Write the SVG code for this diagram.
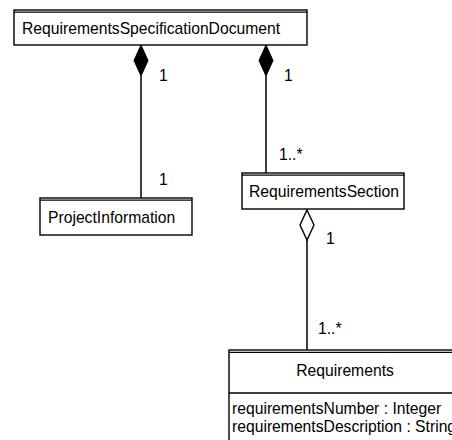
<svg xmlns="http://www.w3.org/2000/svg" width="452" height="440" viewBox="0 0 452 440">
  <style>
    .box { fill: #ffffff; stroke: #000000; stroke-width: 1.4; }
    .cap { stroke: #000000; stroke-width: 1.2; fill: none; }
    .line { stroke: #000000; stroke-width: 1.5; fill: none; }
    .lbl { font-family: "Liberation Sans", Arial, sans-serif; font-size: 15.7px; fill: #000000; }
    .mid { text-anchor: middle; }
  </style>
  <rect width="452" height="440" fill="#ffffff"/>

  <!-- associations -->
  <g id="connectors">
    <!-- composition: document to project information -->
    <line class="line" x1="141" y1="76" x2="141" y2="198"/>
    <polygon points="141,45 148,60.5 141,76 134,60.5" fill="#000000" stroke="#000000" stroke-width="1"/>
    <text class="lbl" x="159" y="81">1</text>
    <text class="lbl" x="159" y="185">1</text>

    <!-- composition: document to sections -->
    <line class="line" x1="266" y1="76" x2="266" y2="173"/>
    <polygon points="266,45 273,60.5 266,76 259,60.5" fill="#000000" stroke="#000000" stroke-width="1"/>
    <text class="lbl" x="284" y="81">1</text>
    <text class="lbl" x="279" y="160">1..*</text>

    <!-- aggregation: section to requirements -->
    <line class="line" x1="307" y1="240" x2="307" y2="350"/>
    <polygon points="307,210 314,225 307,240 300,225" fill="#ffffff" stroke="#000000" stroke-width="1.4"/>
    <text class="lbl" x="326" y="244">1</text>
    <text class="lbl" x="318" y="334">1..*</text>
  </g>

  <g id="requirements-specification-document">
    <rect class="box" x="14" y="10" width="293" height="35"/>
    <line class="cap" x1="14" y1="12.2" x2="307" y2="12.2"/>
    <text class="lbl" x="22" y="34">RequirementsSpecificationDocument</text>
  </g>

  <g id="project-information">
    <rect class="box" x="40" y="198" width="152" height="37"/>
    <line class="cap" x1="40" y1="200.2" x2="192" y2="200.2"/>
    <text class="lbl" x="48" y="223">ProjectInformation</text>
  </g>

  <g id="requirements-section">
    <rect class="box" x="242" y="173" width="162" height="36"/>
    <line class="cap" x1="242" y1="175.2" x2="404" y2="175.2"/>
    <text class="lbl" x="249" y="197">RequirementsSection</text>
  </g>

  <g id="requirements">
    <rect class="box" x="229" y="350" width="232" height="100"/>
    <line class="cap" x1="229" y1="352.4" x2="461" y2="352.4"/>
    <line class="line" x1="229" y1="393" x2="461" y2="393"/>
    <text class="lbl mid" x="345" y="376">Requirements</text>
    <text class="lbl" x="232" y="414">requirementsNumber : Integer</text>
    <text class="lbl" x="232" y="432">requirementsDescription : String</text>
  </g>
</svg>
